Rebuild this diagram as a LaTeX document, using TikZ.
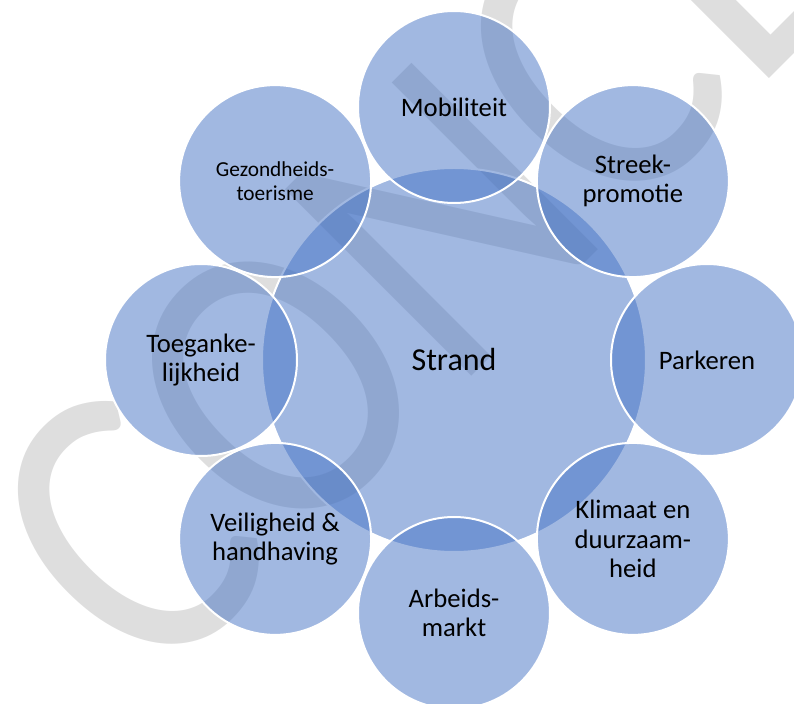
\documentclass[tikz,border=0pt]{standalone}
\usepackage{fontspec}
\setmainfont{Carlito}
\usetikzlibrary{calc}
\definecolor{ringblue}{HTML}{4472C4}
\definecolor{stampgray}{HTML}{DEDEDE}
\tikzset{
	bubble/.style={circle, draw=white, line width=1.5pt, fill=ringblue, fill opacity=0.5, text opacity=1, inner sep=0pt, minimum size=144pt, align=center, font=\fontsize{20}{22}\selectfont},
	hub/.style={bubble, minimum size=288pt, font=\fontsize{24}{26}\selectfont},
	stamp/.style={text=stampgray, inner sep=0pt, font=\fontsize{268}{268}\selectfont}
}

\begin{document}
\begin{tikzpicture}[x=0.75pt, y=0.75pt]
			%%%%% START %%%%%
			
			\useasboundingbox (0,0) rectangle (794,704);
			\clip (0,0) rectangle (794,704);
			
			\node[stamp, rotate=45, yscale=1.15, anchor=base west] (concept) at (153,9) {CONCEPT};
			
			\coordinate (mid) at (454,344);
			\node[hub] (strand) at (mid) {Strand};
			
			\node[bubble] (mobiliteit) at ($(mid)+(90:253)$) {Mobiliteit};
			\node[bubble] (streek) at ($(mid)+(45:253)$) {Streek-\\promotie};
			\node[bubble] (parkeren) at ($(mid)+(0:253)$) {Parkeren};
			\node[bubble] (klimaat) at ($(mid)+(-45:253)$) {Klimaat en\\duurzaam-\\heid};
			\node[bubble] (arbeid) at ($(mid)+(-90:253)$) {Arbeids-\\markt};
			\node[bubble] (veiligheid) at ($(mid)+(-135:253)$) {Veiligheid \&\\handhaving};
			\node[bubble] (toegang) at ($(mid)+(180:253)$) {Toeganke-\\lijkheid};
			\node[bubble, font=\fontsize{16}{17.6}\selectfont] (gezondheid) at ($(mid)+(135:253)$) {Gezondheids-\\toerisme};
			
			%%%%% END %%%%%
\end{tikzpicture}
\end{document}
